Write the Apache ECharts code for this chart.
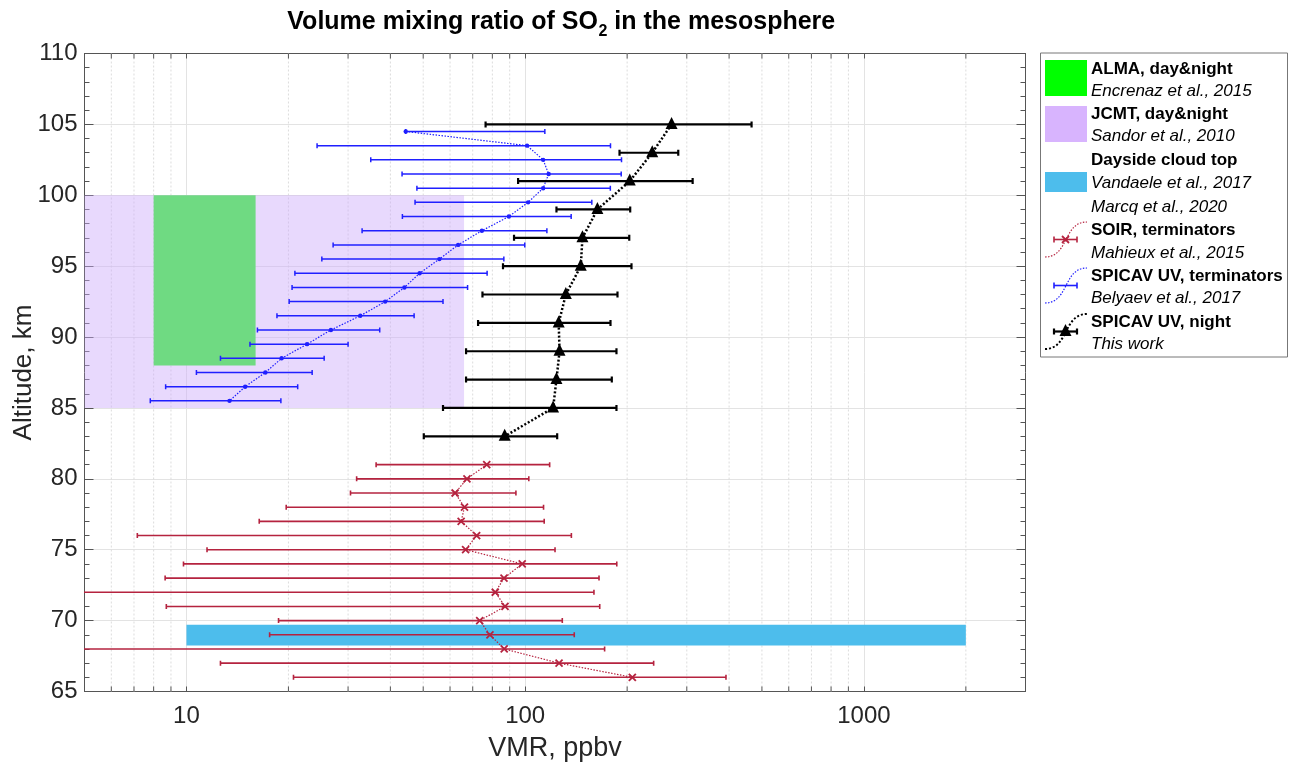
<!DOCTYPE html>
<html><head><meta charset="utf-8">
<script src="https://cdn.jsdelivr.net/npm/echarts@6/dist/echarts.min.js"></script>
<style>html,body{margin:0;padding:0;background:#fff}#c{width:1297px;height:766px}</style>
</head><body><div id="c"></div>
<script>
// ---- data ----
// SPICAV UV, night (this work)
const nightAlt = [105, 103, 101, 99, 97, 95, 93, 91, 89, 87, 85, 83];
const nightVmr = [270.5, 237.2, 203.6, 163.4, 147.6, 145.9, 131.8, 125.6, 126.3, 123.7, 120.9, 87.0];
const nightLo  = [76.4, 189.9, 95.3, 123.7, 92.7, 86.0, 74.8, 72.6, 66.9, 66.9, 57.2, 50.2];
const nightHi  = [466, 283.1, 312.2, 204.2, 202.9, 206.0, 187.3, 178.6, 186.0, 180.2, 186.0, 124.3];
// SPICAV UV, terminators (Belyaev et al., 2017)
const termAlt = [104.5, 103.5, 102.5, 101.5, 100.5, 99.5, 98.5, 97.5, 96.5, 95.5, 94.5, 93.5, 92.5, 91.5, 90.5, 89.5, 88.5, 87.5, 86.5, 85.5];
const termVmr = [44.4, 101.3, 113.0, 117.3, 113.0, 102.0, 89.5, 74.5, 63.4, 55.8, 48.8, 44.0, 38.6, 32.6, 26.7, 22.7, 19.1, 17.1, 14.9, 13.4];
const termLo  = [44.4, 24.3, 35.0, 43.3, 47.9, 47.3, 43.4, 33.0, 27.1, 25.1, 20.9, 20.5, 20.1, 18.5, 16.2, 15.4, 12.6, 10.7, 8.68, 7.82];
const termHi  = [114.3, 178.6, 192.5, 192.1, 178.4, 157.3, 136.7, 115.9, 99.7, 86.5, 77.2, 67.6, 57.2, 47.0, 37.2, 30.0, 25.5, 23.5, 21.3, 19.0];
// SOIR, terminators (Mahieux et al., 2015)
const soirAlt = [81, 80, 79, 78, 77, 76, 75, 74, 73, 72, 71, 70, 69, 68, 67, 66];
const soirVmr = [77.0, 67.3, 62.1, 66.2, 64.7, 71.9, 66.7, 98.0, 86.6, 81.6, 87.2, 73.4, 78.7, 86.7, 125.9, 207.2];
const soirLo  = [36.3, 31.8, 30.5, 19.7, 16.4, 7.16, 11.5, 9.8, 8.65, 3.6, 8.72, 18.7, 17.6, 1.8, 12.6, 20.7];
const soirHi  = [118.1, 102.5, 93.9, 113.3, 113.8, 136.9, 122.5, 186.4, 165.2, 159.6, 166.0, 128.7, 139.6, 171.6, 239.5, 391.6];
// Shaded ranges: JCMT, ALMA, Dayside cloud top
const bandNames  = ['JCMT', 'ALMA', 'Dayside'];
const bandVmrMin = [1, 8, 10];
const bandVmrMax = [66, 16, 2000];
const bandAltMin = [85, 88, 68.25];
const bandAltMax = [100, 100, 69.7];
// axis ticks
const xMajorTicks = [10, 100, 1000];
const xMinorTicks = [6, 7, 8, 9, 20, 30, 40, 50, 60, 70, 80, 90, 200, 300, 400, 500, 600, 700, 800, 900, 2000];

// ---- styles ----
const FONT = '"Liberation Sans", Arial, Helvetica, sans-serif';
const AX = '#262626';
const RED = '#b5233f';
const BLUE = '#1f1fff';
const BAND_FILL = ['rgba(204,170,250,0.45)', '#6fda82', '#4dbdec'];

const chart = echarts.init(document.getElementById('c'), null, {renderer: 'canvas'});

function errRender(color, lw, cap, marker) {
  return function (params, api) {
    const y = api.value(1);
    const pL = api.coord([api.value(0), y]);
    const pC = api.coord([api.value(2), y]);
    const pH = api.coord([api.value(3), y]);
    const ls = {stroke: color, lineWidth: lw};
    const ch = [
      {type: 'line', shape: {x1: pL[0], y1: pL[1], x2: pH[0], y2: pH[1]}, style: ls},
      {type: 'line', shape: {x1: pL[0], y1: pL[1] - cap, x2: pL[0], y2: pL[1] + cap}, style: ls},
      {type: 'line', shape: {x1: pH[0], y1: pH[1] - cap, x2: pH[0], y2: pH[1] + cap}, style: ls}
    ];
    const x = pC[0], yy = pC[1];
    if (marker === 'tri') {
      ch.push({type: 'polygon', shape: {points: [[x, yy - 7.5], [x - 6, yy + 4.5], [x + 6, yy + 4.5]]}, style: {fill: '#000'}});
    } else if (marker === 'x') {
      const s = 3.5;
      ch.push({type: 'line', shape: {x1: x - s, y1: yy - s, x2: x + s, y2: yy + s}, style: {stroke: color, lineWidth: 1.8}});
      ch.push({type: 'line', shape: {x1: x - s, y1: yy + s, x2: x + s, y2: yy - s}, style: {stroke: color, lineWidth: 1.8}});
    } else {
      ch.push({type: 'circle', shape: {cx: x, cy: yy, r: 2.2}, style: {fill: color}});
    }
    return {type: 'group', children: ch};
  };
}

const option = {
  animation: false,
  backgroundColor: '#fff',
  grid: {left: 84.5, right: 271.5, top: 53.5, bottom: 74.5, containLabel: false, outerBoundsMode: 'none'},
  xAxis: [{
    type: 'log', logBase: 10, min: 5, max: 3000, position: 'bottom',
    name: 'VMR, ppbv', nameLocation: 'middle', nameGap: 44, nameMoveOverlap: false,
    nameTextStyle: {fontFamily: FONT, fontSize: 27, color: AX},
    axisLine: {show: true, lineStyle: {color: '#555', width: 1}},
    axisTick: {show: true, inside: true, length: 5, lineStyle: {color: '#555'}},
    axisLabel: {
      show: true, fontFamily: FONT, fontSize: 24, color: AX, margin: 13,
      showMinLabel: false, showMaxLabel: false,
      formatter: function (v) { const r = Math.round(v); return xMajorTicks.indexOf(r) >= 0 ? String(r) : ''; }
    },
    splitLine: {show: true, lineStyle: {color: '#e3e3e3', width: 1}}
  }, {
    type: 'log', logBase: 10, min: 5, max: 3000, position: 'top',
    axisLine: {show: true, lineStyle: {color: '#555', width: 1}},
    axisTick: {show: true, inside: true, length: 5, lineStyle: {color: '#555'}},
    axisLabel: {show: false}, splitLine: {show: false}
  }],
  yAxis: [{
    type: 'value', min: 65, max: 110, interval: 5, position: 'left',
    name: 'Altitude, km', nameLocation: 'middle', nameGap: 48, nameRotate: 90, nameMoveOverlap: false,
    nameTextStyle: {fontFamily: FONT, fontSize: 26, color: AX},
    axisLine: {show: true, lineStyle: {color: '#555', width: 1}},
    axisTick: {show: true, inside: true, length: 9, lineStyle: {color: '#555'}},
    minorTick: {show: true, splitNumber: 5, length: 5, lineStyle: {color: '#555'}},
    axisLabel: {fontFamily: FONT, fontSize: 24, color: AX, margin: 7},
    splitLine: {show: true, lineStyle: {color: '#e3e3e3', width: 1}}
  }, {
    type: 'value', min: 65, max: 110, interval: 5, position: 'right',
    axisLine: {show: true, lineStyle: {color: '#555', width: 1}},
    axisTick: {show: true, inside: true, length: 9, lineStyle: {color: '#555'}},
    minorTick: {show: true, splitNumber: 5, length: 5, lineStyle: {color: '#555'}},
    axisLabel: {show: false}, splitLine: {show: false}
  }],
  series: [
    { // minor vertical grid + minor ticks
      type: 'custom', z: 1, silent: true, clip: false,
      data: xMinorTicks.map(v => [v, 65]),
      encode: {x: 0, y: 1},
      renderItem: function (params, api) {
        const cs = params.coordSys;
        const x = api.coord([api.value(0), 65])[0];
        return {type: 'group', children: [
          {type: 'line', shape: {x1: x, y1: cs.y, x2: x, y2: cs.y + cs.height}, style: {stroke: '#dcdcdc', lineWidth: 1, lineDash: [2, 2]}},
          {type: 'line', shape: {x1: x, y1: cs.y + cs.height, x2: x, y2: cs.y + cs.height - 5}, style: {stroke: '#555', lineWidth: 1}},
          {type: 'line', shape: {x1: x, y1: cs.y, x2: x, y2: cs.y + 5}, style: {stroke: '#555', lineWidth: 1}}
        ]};
      }
    },
    { // shaded ranges
      type: 'custom', z: 2, silent: true, clip: true,
      data: bandNames.map((n, i) => [bandVmrMin[i], bandAltMin[i], bandVmrMax[i], bandAltMax[i]]),
      encode: {x: [0, 2], y: [1, 3]},
      renderItem: function (params, api) {
        const p1 = api.coord([api.value(0), api.value(3)]);
        const p2 = api.coord([api.value(2), api.value(1)]);
        const cs = params.coordSys;
        const rect = echarts.graphic.clipRectByRect(
          {x: p1[0], y: p1[1], width: p2[0] - p1[0], height: p2[1] - p1[1]},
          {x: cs.x, y: cs.y, width: cs.width, height: cs.height});
        return rect && {type: 'rect', shape: rect, style: {fill: BAND_FILL[params.dataIndex]}};
      }
    },
    { type: 'line', z: 3, silent: true, symbol: 'none', clip: true,
      data: soirAlt.map((a, i) => [soirVmr[i], a]),
      lineStyle: {color: RED, width: 1.2, type: [1.5, 1.5]} },
    { type: 'line', z: 3, silent: true, symbol: 'none', clip: true,
      data: termAlt.map((a, i) => [termVmr[i], a]),
      lineStyle: {color: BLUE, width: 1.2, type: [1.5, 1.5]} },
    { type: 'line', z: 3, silent: true, symbol: 'none', clip: true,
      data: nightAlt.map((a, i) => [nightVmr[i], a]),
      lineStyle: {color: '#000', width: 2.5, type: [2, 2]} },
    { type: 'custom', z: 4, silent: true, clip: true,
      data: soirAlt.map((a, i) => [soirLo[i], a, soirVmr[i], soirHi[i]]),
      encode: {x: [0, 2, 3], y: 1},
      renderItem: errRender(RED, 1.6, 2.5, 'x') },
    { type: 'custom', z: 4, silent: true, clip: true,
      data: termAlt.map((a, i) => [termLo[i], a, termVmr[i], termHi[i]]),
      encode: {x: [0, 2, 3], y: 1},
      renderItem: errRender(BLUE, 1.5, 2.5, 'dot') },
    { type: 'custom', z: 5, silent: true, clip: true,
      data: nightAlt.map((a, i) => [nightLo[i], a, nightVmr[i], nightHi[i]]),
      encode: {x: [0, 2, 3], y: 1},
      renderItem: errRender('#000', 2.2, 3, 'tri') }
  ],
  graphic: []
};

// ---- title (three parts for subscript) ----
const g = [];
const TITLE_FONT = 'bold 25px ' + FONT;
const SUB_FONT = 'bold 16px ' + FONT;
const titleParts = ['Volume mixing ratio of SO', '2', ' in the mesosphere'];
const mctx = document.createElement('canvas').getContext('2d');
function tw(t, f) { mctx.font = f; return mctx.measureText(t).width; }
const w0 = tw(titleParts[0], TITLE_FONT), w1 = tw(titleParts[1], SUB_FONT), w2 = tw(titleParts[2], TITLE_FONT);
let tx = 561 - (w0 + w1 + w2) / 2;
g.push({type: 'text', z: 10, x: tx, y: 22, style: {text: titleParts[0], font: TITLE_FONT, fill: '#000', align: 'left', verticalAlign: 'middle'}});
g.push({type: 'text', z: 10, x: tx + w0 + 0.5, y: 32, style: {text: titleParts[1], font: SUB_FONT, fill: '#000', align: 'left', verticalAlign: 'middle'}});
g.push({type: 'text', z: 10, x: tx + w0 + w1 + 0.5, y: 22, style: {text: titleParts[2], font: TITLE_FONT, fill: '#000', align: 'left', verticalAlign: 'middle'}});

// ---- legend (graphic) ----
const LX = 1040.5, LY = 53, LW = 247, LH = 304;
g.push({type: 'rect', z: 10, shape: {x: LX, y: LY, width: LW, height: LH}, style: {fill: '#fff', stroke: '#777', lineWidth: 1}});
const legendLines = [
  ['ALMA, day&night', 'b', 69], ['Encrenaz et al., 2015', 'i', 91],
  ['JCMT, day&night', 'b', 114], ['Sandor et al., 2010', 'i', 136],
  ['Dayside cloud top', 'b', 160], ['Vandaele et al., 2017', 'i', 183],
  ['Marcq et al., 2020', 'i', 207],
  ['SOIR, terminators', 'b', 230], ['Mahieux et al., 2015', 'i', 253],
  ['SPICAV UV, terminators', 'b', 276], ['Belyaev et al., 2017', 'i', 298],
  ['SPICAV UV, night', 'b', 322], ['This work', 'i', 344]
];
legendLines.forEach(l => {
  g.push({type: 'text', z: 11, x: 1091, y: l[2], style: {
    text: l[0], fill: '#000', verticalAlign: 'middle', align: 'left',
    font: (l[1] === 'b' ? 'bold ' : 'italic ') + '17px ' + FONT
  }});
});
// swatches
g.push({type: 'rect', z: 11, shape: {x: 1045, y: 60, width: 42, height: 36}, style: {fill: '#00ff00'}});
g.push({type: 'rect', z: 11, shape: {x: 1045, y: 106, width: 42, height: 36}, style: {fill: '#d8b4fe'}});
g.push({type: 'rect', z: 11, shape: {x: 1045, y: 172, width: 42, height: 20}, style: {fill: '#4dbdec'}});
// line icons
function lineIcon(yTop, color, lw, dash, marker) {
  const yBot = yTop + 35, yMid = yTop + 17.5;
  g.push({type: 'bezierCurve', z: 11, shape: {x1: 1045, y1: yBot, cpx1: 1069, cpy1: yBot, cpx2: 1063, cpy2: yTop, x2: 1087, y2: yTop},
    style: {stroke: color, lineWidth: lw, lineDash: dash, fill: null}});
  const st = {stroke: color, lineWidth: marker === 'tri' ? 2.2 : 1.6};
  g.push({type: 'line', z: 12, shape: {x1: 1054, y1: yMid, x2: 1077, y2: yMid}, style: st});
  g.push({type: 'line', z: 12, shape: {x1: 1054, y1: yMid - 3, x2: 1054, y2: yMid + 3}, style: st});
  g.push({type: 'line', z: 12, shape: {x1: 1077, y1: yMid - 3, x2: 1077, y2: yMid + 3}, style: st});
  const x = 1065.5;
  if (marker === 'x') {
    g.push({type: 'line', z: 12, shape: {x1: x - 3.5, y1: yMid - 3.5, x2: x + 3.5, y2: yMid + 3.5}, style: {stroke: color, lineWidth: 1.8}});
    g.push({type: 'line', z: 12, shape: {x1: x - 3.5, y1: yMid + 3.5, x2: x + 3.5, y2: yMid - 3.5}, style: {stroke: color, lineWidth: 1.8}});
  } else if (marker === 'tri') {
    g.push({type: 'polygon', z: 12, shape: {points: [[x, yMid - 7.5], [x - 6, yMid + 4.5], [x + 6, yMid + 4.5]]}, style: {fill: '#000'}});
  }
}
lineIcon(222, RED, 1.2, [1.5, 1.5], 'x');
lineIcon(268, BLUE, 1.2, [1.5, 1.5], 'dot');
lineIcon(314, '#000', 2, [2, 2], 'tri');
option.graphic = g;

chart.setOption(option);
</script>
</body></html>
